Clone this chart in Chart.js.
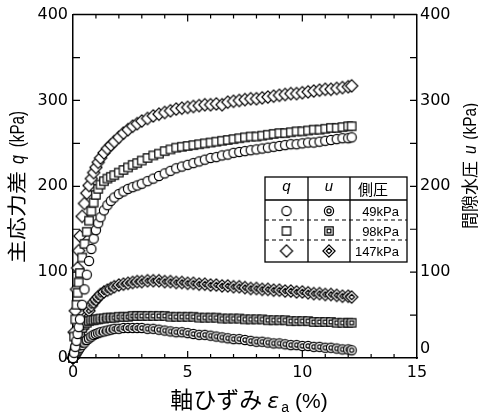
<!DOCTYPE html>
<html>
<head>
<meta charset="utf-8">
<script src="https://cdn.jsdelivr.net/npm/chart.js@4/dist/chart.umd.min.js"></script>
<style>
  html, body { margin: 0; padding: 0; background: #fff; }
  #wrap { width: 478px; height: 419px; position: relative; }
</style>
</head>
<body>
<div id="wrap"><canvas id="chart" width="478" height="419"></canvas></div>
<script>
// axial strain (%) shared by all six test series
const strain = [0, 0.05, 0.1, 0.15, 0.2, 0.25, 0.3,
  0.4, 0.5, 0.6, 0.7, 0.8, 0.9, 1.0, 1.1, 1.2,
  1.35, 1.5, 1.65, 1.8,
  2.0, 2.2, 2.4, 2.6, 2.8,
  3.0, 3.25, 3.5, 3.75,
  4.0, 4.25, 4.5, 4.75,
  5.0, 5.25, 5.5, 5.75,
  6.0, 6.25, 6.5, 6.75,
  7.0, 7.25, 7.5, 7.75,
  8.0, 8.25, 8.5, 8.75,
  9.0, 9.25, 9.5, 9.75,
  10.0, 10.25, 10.5, 10.75,
  11.0, 11.25, 11.5, 11.75,
  12.0, 12.15];

// deviator stress q (kPa)
const q49 = [0, 6, 13, 20, 28, 36, 45,
  62, 80, 97, 113, 127, 139, 149, 157, 164,
  172, 178, 183, 187,
  191, 194, 197, 199, 201,
  203, 206, 209, 212,
  215, 218, 221, 223,
  225, 227, 229, 231,
  233, 234, 236, 237,
  239, 240, 241, 242,
  243, 244, 245, 246,
  247, 248, 249, 249,
  250, 251, 251, 252,
  253, 254, 255, 256,
  256, 257];
const q98 = [0, 25, 45, 62, 76, 88, 99,
  117, 133, 147, 160, 171, 181, 190, 197, 202,
  206, 209, 211, 213,
  216, 219, 222, 225, 227,
  230, 233, 236, 238,
  241, 243, 245, 246,
  247, 248, 249, 250,
  251, 252, 253, 254,
  255, 256, 257, 258,
  258, 259, 260, 261,
  262, 262, 263, 264,
  264, 265, 266, 266,
  267, 268, 268, 269,
  270, 270];
const q147 = [0, 30, 55, 80, 105, 125, 142,
  165, 180, 192, 201, 209, 216, 222, 228, 233,
  239, 244, 248, 252,
  257, 262, 266, 270, 273,
  276, 279, 282, 284,
  286, 288, 290, 291,
  292, 293, 294, 295,
  295, 296, 295, 298,
  299, 300, 301, 302,
  302, 303, 304, 305,
  306, 307, 308, 308,
  309, 310, 311, 312,
  313, 313, 314, 315,
  316, 317];

// pore water pressure u (kPa)
const u49 = [0, 2, 4, 6, 8, 10, 12,
  15, 18, 21, 23, 25, 27, 28, 29, 30,
  31, 32, 33, 34,
  34, 35, 35, 35, 35,
  35, 34, 34, 33,
  32, 31, 30, 30,
  29, 28, 27, 27,
  26, 25, 24, 23,
  22, 22, 21, 20,
  19, 19, 18, 17,
  17, 16, 15, 15,
  14, 14, 13, 13,
  12, 12, 11, 10,
  10, 9];
const u98 = [0, 5, 10, 15, 20, 25, 29,
  35, 39, 41, 43, 44, 44, 45, 45, 46,
  46, 47, 47, 47,
  48, 48, 48, 49, 49,
  49, 49, 49, 49,
  49, 48, 48, 48,
  48, 48, 47, 47,
  47, 47, 46, 46,
  46, 46, 45, 45,
  45, 45, 44, 44,
  44, 44, 43, 43,
  43, 43, 42, 42,
  42, 42, 41, 41,
  41, 41];
const u147 = [0, 3, 7, 11, 16, 21, 26,
  34, 42, 49, 55, 61, 65, 68, 71, 74,
  77, 79, 81, 83,
  85, 86, 87, 88, 89,
  89, 90, 90, 90,
  89, 89, 88, 88,
  87, 87, 86, 86,
  85, 85, 84, 84,
  83, 83, 82, 81,
  81, 80, 80, 79,
  79, 78, 78, 77,
  77, 76, 75, 75,
  74, 74, 73, 72,
  72, 71];

const confining = ['49kPa', '98kPa', '147kPa'];

// open / double-outlined markers drawn once on small canvases
function makeMarker(shape, inner) {
  const s = 16, m = 8;
  const c = document.createElement('canvas');
  c.width = s; c.height = s;
  const ctx = c.getContext('2d');
  ctx.lineWidth = 1.2;
  ctx.strokeStyle = '#000';
  ctx.fillStyle = '#fff';
  const path = (r) => {
    ctx.beginPath();
    if (shape === 'circle') {
      ctx.arc(m, m, r, 0, Math.PI * 2);
    } else if (shape === 'square') {
      ctx.rect(m - r, m - r, 2 * r, 2 * r);
    } else {
      ctx.moveTo(m, m - r); ctx.lineTo(m + r, m); ctx.lineTo(m, m + r); ctx.lineTo(m - r, m);
      ctx.closePath();
    }
  };
  const size = shape === 'circle' ? 4.6 : shape === 'square' ? 4.2 : 6.1;
  path(size); ctx.fill(); ctx.stroke();
  if (inner) { path(size * 0.45); ctx.stroke(); }
  return c;
}

const markers = {
  q: [makeMarker('circle'), makeMarker('square'), makeMarker('diamond')],
  u: [makeMarker('circle', true), makeMarker('square', true), makeMarker('diamond', true)]
};

function series(label, values, marker, axis) {
  return {
    label: label,
    data: strain.map((x, i) => ({ x: x, y: values[i] })),
    yAxisID: axis,
    pointStyle: marker,
    pointRadius: 5,
    showLine: false,
    clip: false
  };
}

// draws a line of mixed fonts, each piece can be squeezed along/across the text
function drawRich(ctx, parts, x0, y0, angle) {
  ctx.save();
  ctx.translate(x0, y0);
  ctx.rotate(angle);
  let total = 0;
  parts.forEach(p => {
    if (p.gap) { p.w = p.gap; }
    else { ctx.font = p.font; p.w = ctx.measureText(p.text).width * (p.sx || 1); }
    total += p.w;
  });
  let x = -total / 2;
  parts.forEach(p => {
    if (!p.gap) {
      ctx.save();
      ctx.translate(x, p.dy || 0);
      ctx.scale(p.sx || 1, p.sy || 1);
      ctx.font = p.font;
      ctx.fillStyle = '#000';
      ctx.textAlign = 'left';
      ctx.textBaseline = 'alphabetic';
      ctx.fillText(p.text, 0, 0);
      ctx.restore();
    }
    x += p.w;
  });
  ctx.restore();
}

const CJK = '"Noto Sans CJK JP"';
const LAT = '"Liberation Sans"';

// inward ticks on all four sides plus the top frame line
const frameTicks = {
  id: 'frameTicks',
  beforeDatasetsDraw(chart) {
    const { ctx, chartArea: a, scales } = chart;
    ctx.save();
    ctx.strokeStyle = '#000';
    ctx.lineWidth = 1.5;
    ctx.beginPath();
    ctx.moveTo(a.left, a.top); ctx.lineTo(a.right, a.top);
    ctx.stroke();
    ctx.lineWidth = 1.2;
    ctx.beginPath();
    for (let v = 1; v < 15; v++) {
      const px = scales.x.getPixelForValue(v);
      const len = v % 5 === 0 ? 7 : 4;
      ctx.moveTo(px, a.bottom); ctx.lineTo(px, a.bottom - len);
      ctx.moveTo(px, a.top); ctx.lineTo(px, a.top + len);
    }
    for (let v = 50; v < 400; v += 50) {
      const py = scales.y.getPixelForValue(v);
      ctx.moveTo(a.left, py); ctx.lineTo(a.left + 7, py);
      ctx.moveTo(a.right, py); ctx.lineTo(a.right - 7, py);
    }
    ctx.stroke();
    ctx.restore();
  }
};

// symbol table used as legend
const tableLegend = {
  id: 'tableLegend',
  afterDatasetsDraw(chart) {
    const ctx = chart.ctx;
    const L = 265, R = 407, T = 177, B = 262;
    const c1 = 308, c2 = 350;
    const rows = [200, 220, 240];
    const centers = [211, 231, 251];
    ctx.save();
    ctx.fillStyle = '#fff';
    ctx.fillRect(L, T, R - L, B - T);
    ctx.strokeStyle = '#000';
    ctx.lineWidth = 1.3;
    ctx.strokeRect(L, T, R - L, B - T);
    ctx.beginPath();
    ctx.moveTo(c1, T); ctx.lineTo(c1, B);
    ctx.moveTo(c2, T); ctx.lineTo(c2, B);
    ctx.moveTo(L, rows[0]); ctx.lineTo(R, rows[0]);
    ctx.stroke();
    ctx.setLineDash([4, 3]);
    ctx.lineWidth = 1.1;
    ctx.beginPath();
    ctx.moveTo(L, rows[1]); ctx.lineTo(R, rows[1]);
    ctx.moveTo(L, rows[2]); ctx.lineTo(R, rows[2]);
    ctx.stroke();
    ctx.setLineDash([]);

    ctx.fillStyle = '#000';
    ctx.textAlign = 'center';
    ctx.textBaseline = 'middle';
    ctx.font = 'italic 15px ' + LAT;
    ctx.fillText('q', (L + c1) / 2, 187);
    ctx.fillText('u', (c1 + c2) / 2, 187);
    ctx.font = '15px ' + CJK;
    ctx.fillText('側圧', 373, 189);

    ctx.font = '13px ' + LAT;
    ctx.textAlign = 'right';
    confining.forEach((t, i) => {
      const cy = centers[i];
      ctx.drawImage(markers.q[i], (L + c1) / 2 - 8, cy - 8);
      ctx.drawImage(markers.u[i], (c1 + c2) / 2 - 8, cy - 8);
      ctx.fillText(t, 399, cy + 1);
    });
    ctx.restore();
  }
};

// axis titles with italic symbols, plus the right "0" nudged up off the "15"
const axisTitles = {
  id: 'axisTitles',
  afterDraw(chart) {
    const ctx = chart.ctx;
    drawRich(ctx, [
      { text: '軸ひずみ', font: '23px ' + CJK },
      { gap: 5 },
      { text: 'ε', font: 'italic 22px "DejaVu Sans"' },
      { gap: 2 },
      { text: 'a', font: '14px ' + LAT, dy: 4 },
      { gap: 6 },
      { text: '(%)', font: '21px ' + LAT }
    ], 249, 408, 0);
    drawRich(ctx, [
      { text: '主応力差', font: '23px ' + CJK, sy: 0.85 },
      { gap: 7 },
      { text: 'q', font: 'italic 20px ' + LAT, sx: 0.8 },
      { gap: 8 },
      { text: '(kPa)', font: '20px ' + LAT, sx: 0.76 }
    ], 24, 187, -Math.PI / 2);
    drawRich(ctx, [
      { text: '間隙水圧', font: '17px ' + CJK },
      { gap: 7 },
      { text: 'u', font: 'italic 19px ' + LAT, sx: 0.8 },
      { gap: 6 },
      { text: '(kPa)', font: '19px ' + LAT, sx: 0.81 }
    ], 476, 166, -Math.PI / 2);

    const y1 = chart.scales.y1;
    ctx.save();
    ctx.font = '16px "DejaVu Sans"';
    ctx.fillStyle = '#000';
    ctx.textAlign = 'left';
    ctx.textBaseline = 'middle';
    ctx.fillText('0', y1.left + 3, y1.getPixelForValue(0) - 9);
    ctx.restore();
  }
};

const tickFont = { family: 'DejaVu Sans', size: 16 };

new Chart(document.getElementById('chart'), {
  type: 'scatter',
  data: {
    datasets: [
      series('q 49kPa', q49, markers.q[0], 'y'),
      series('q 98kPa', q98, markers.q[1], 'y'),
      series('q 147kPa', q147, markers.q[2], 'y'),
      series('u 49kPa', u49, markers.u[0], 'y1'),
      series('u 98kPa', u98, markers.u[1], 'y1'),
      series('u 147kPa', u147, markers.u[2], 'y1')
    ]
  },
  options: {
    responsive: false,
    animation: false,
    devicePixelRatio: 1,
    layout: { padding: { top: 14, left: 0, right: 0, bottom: 0 } },
    plugins: {
      legend: { display: false },
      tooltip: { enabled: false }
    },
    scales: {
      x: {
        type: 'linear',
        min: 0,
        max: 15,
        ticks: { stepSize: 5, color: '#000', font: tickFont, padding: 5, maxRotation: 0 },
        grid: { display: false, drawTicks: false },
        border: { color: '#000', width: 1.5 },
        afterFit: (s) => { s.height = 61; }
      },
      y: {
        position: 'left',
        min: 0,
        max: 400,
        ticks: { stepSize: 100, color: '#000', font: tickFont, padding: 5 },
        grid: { display: false, drawTicks: false },
        border: { color: '#000', width: 1.5 },
        afterFit: (s) => { s.width = 73; }
      },
      y1: {
        position: 'right',
        min: 0,
        max: 400,
        ticks: {
          stepSize: 100, color: '#000', font: tickFont, padding: 3,
          callback: (v) => (v === 0 ? '' : v)
        },
        grid: { display: false, drawTicks: false },
        border: { color: '#000', width: 1.5 },
        afterFit: (s) => { s.width = 61; }
      }
    }
  },
  plugins: [frameTicks, tableLegend, axisTitles]
});
</script>
</body>
</html>
